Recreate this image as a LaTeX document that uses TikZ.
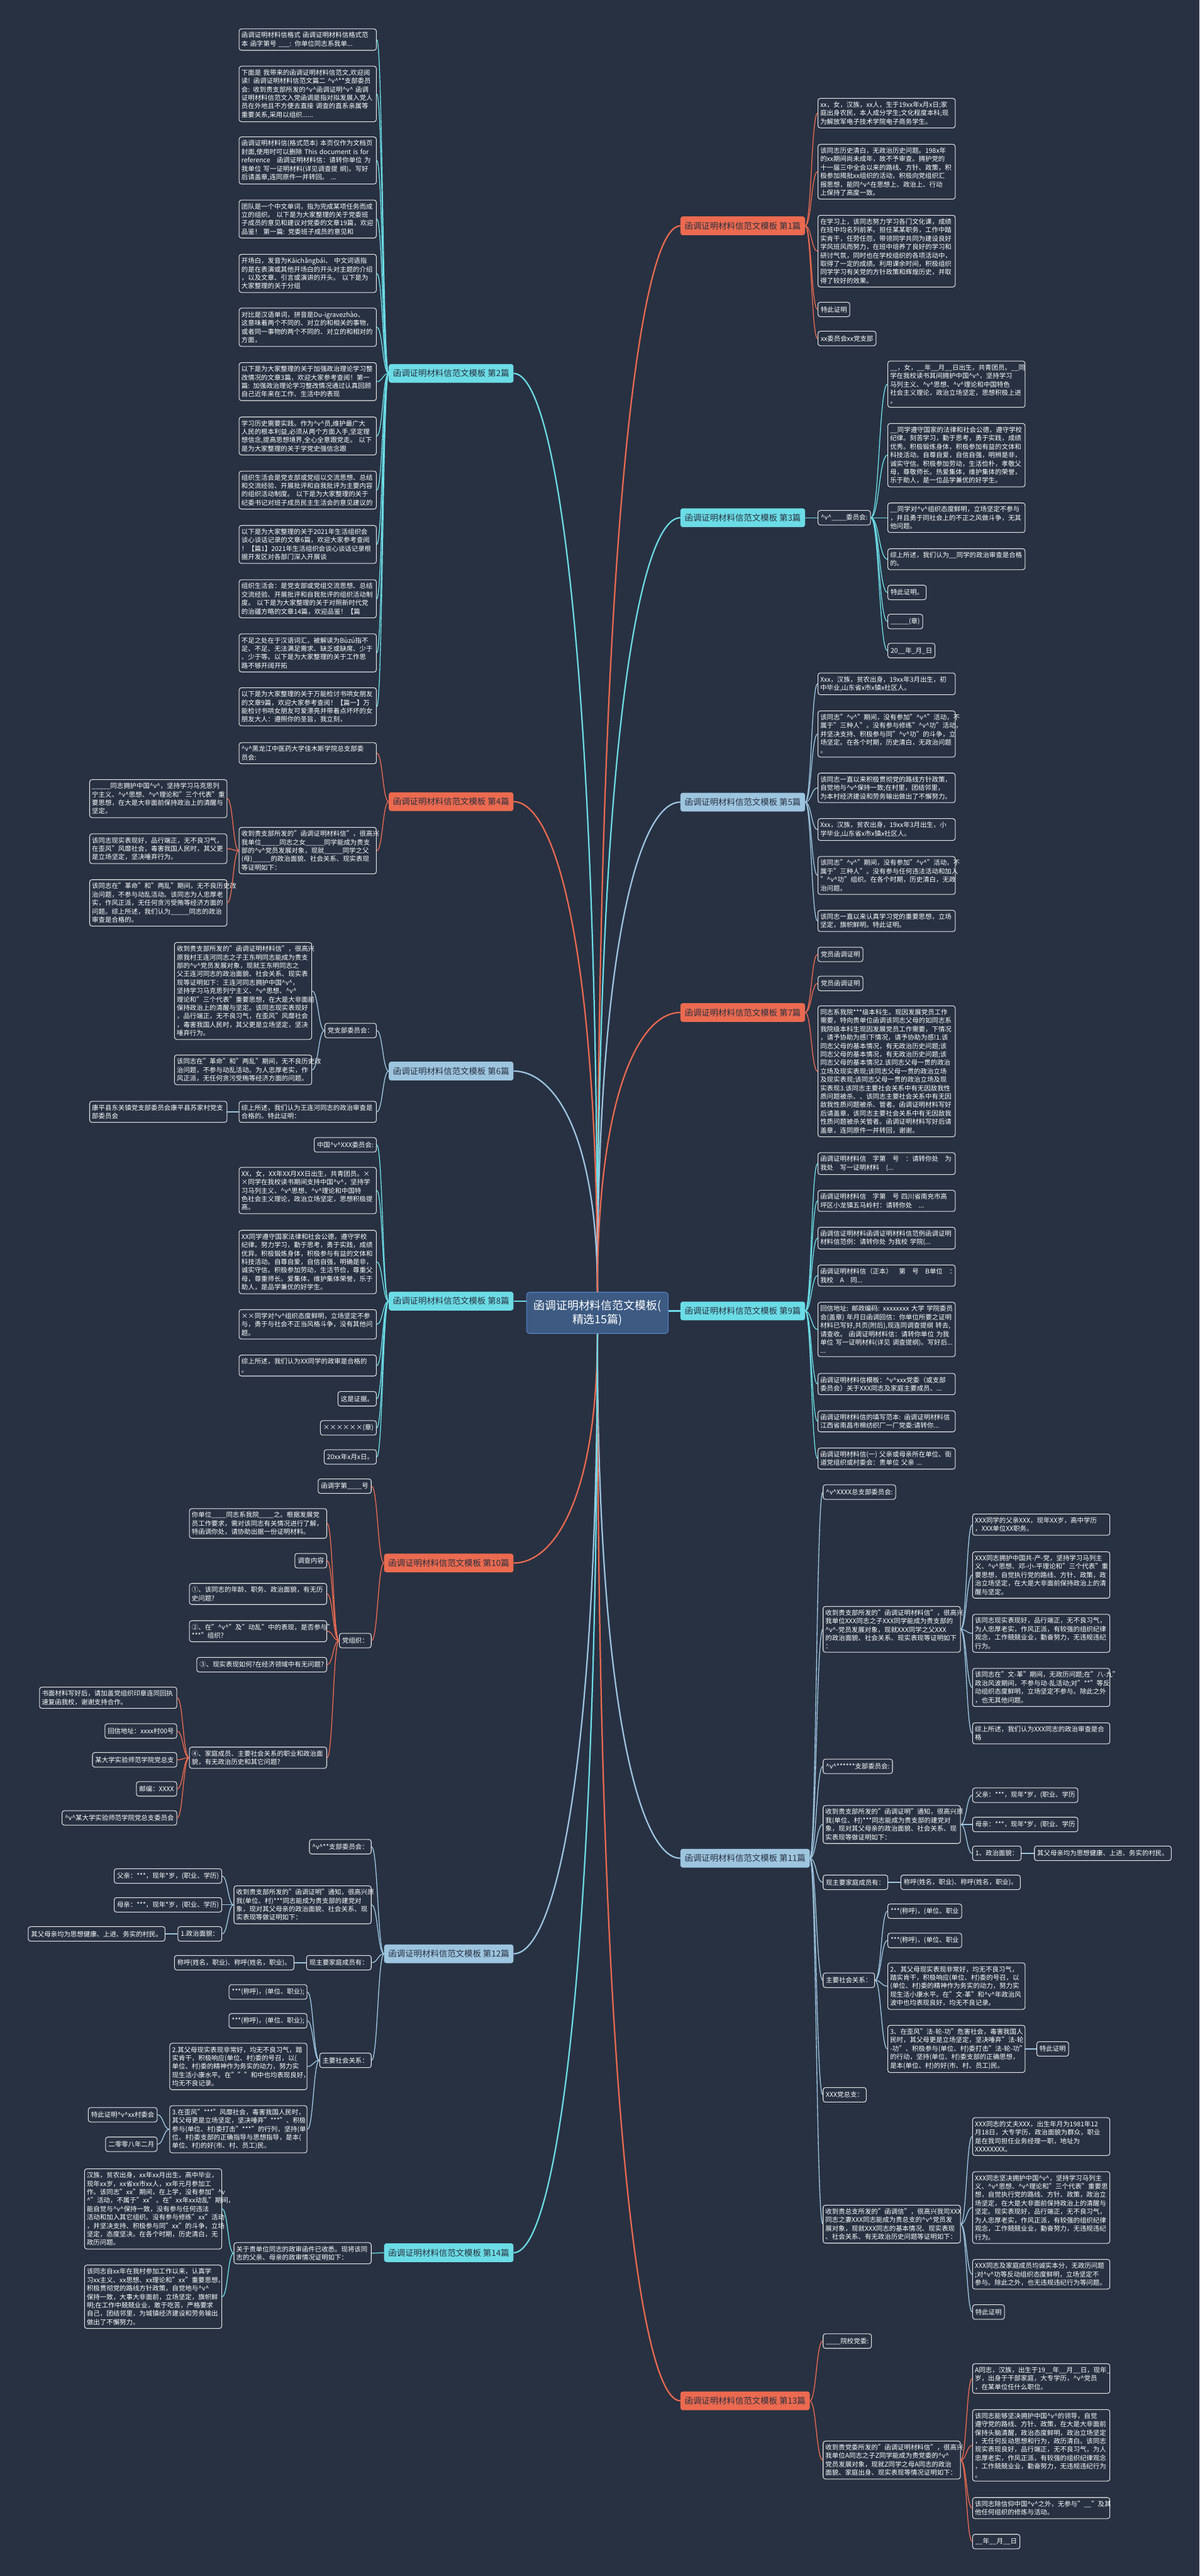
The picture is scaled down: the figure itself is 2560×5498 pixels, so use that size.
\documentclass[tikz,border=0pt]{standalone}
\usepackage{fontspec}
\setmainfont{Noto Sans CJK SC}
\usetikzlibrary{calc}
\definecolor{bgc}{HTML}{283142}
\definecolor{coral}{HTML}{EB6A50}
\definecolor{cyanb}{HTML}{6BDCE6}
\definecolor{paleb}{HTML}{9DC5E0}
\definecolor{hubc}{HTML}{3C5A82}
\definecolor{hubline}{HTML}{5580BF}
\definecolor{inkc}{HTML}{2A3140}
\newcommand{\hv}{\textasciicircum v\textasciicircum}
\hyphenpenalty=10000
\exhyphenpenalty=10000
\begin{document}
\begin{tikzpicture}[x=1pt,y=-1pt,
  leaf/.style={draw=white!90!black, line width=1.4pt, rounded corners=5pt, fill=bgc, text=white, align=left, inner xsep=6pt, inner ysep=6pt, font=\fontsize{14}{18}\selectfont, minimum height=31pt},
  para/.style={leaf, text width=283pt, inner xsep=5pt, inner ysep=7pt},
  topic/.style={fill=#1, rounded corners=5pt, text=inkc, inner xsep=9pt, minimum height=40pt, font=\fontsize{18}{22}\selectfont},
  hub/.style={fill=hubc, draw=hubline, line width=1.5pt, rounded corners=6pt, text=white, align=center, minimum width=302pt, minimum height=88pt, font=\fontsize{24}{30}\selectfont},
  link/.style={line width=1.8pt, to path={let \p1=(\tikztostart), \p2=(\tikztotarget) in .. controls (\x1/2+\x2/2,\y1) and (\x1/2+\x2/2,\y2) .. (\tikztotarget)}},
  trunk/.style={line width=3pt, to path={let \p1=(\tikztostart), \p2=(\tikztotarget) in .. controls (\x1,0.3*\y1+0.7*\y2) and (\x1/2+\x2/2,\y2) .. (\tikztotarget)}}]
\path[use as bounding box, fill=bgc] (0,0) rectangle (2560,5498);

\node[hub] (hub) at (1275,2802) {函调证明材料信范文模板(\\精选15篇)};

\node[topic=coral, anchor=west] (t1) at (1452,482) {函调证明材料信范文模板 第1篇};
\node[topic=cyanb, anchor=east] (t2) at (1096,797) {函调证明材料信范文模板 第2篇};
\node[topic=cyanb, anchor=west] (t3) at (1452,1105) {函调证明材料信范文模板 第3篇};
\node[topic=coral, anchor=east] (t4) at (1096,1711) {函调证明材料信范文模板 第4篇};
\node[topic=paleb, anchor=west] (t5) at (1452,1712) {函调证明材料信范文模板 第5篇};
\node[topic=paleb, anchor=east] (t6) at (1096,2286) {函调证明材料信范文模板 第6篇};
\node[topic=coral, anchor=west] (t7) at (1452,2161) {函调证明材料信范文模板 第7篇};
\node[topic=cyanb, anchor=east] (t8) at (1096,2777) {函调证明材料信范文模板 第8篇};
\node[topic=cyanb, anchor=west] (t9) at (1452,2798) {函调证明材料信范文模板 第9篇};
\node[topic=coral, anchor=east] (t10) at (1096,3336) {函调证明材料信范文模板 第10篇};
\node[topic=paleb, anchor=west] (t11) at (1452,3966) {函调证明材料信范文模板 第11篇};
\node[topic=paleb, anchor=east] (t12) at (1096,4170) {函调证明材料信范文模板 第12篇};
\node[topic=coral, anchor=west] (t13) at (1452,5124) {函调证明材料信范文模板 第13篇};
\node[topic=cyanb, anchor=east] (t14) at (1096,4808) {函调证明材料信范文模板 第14篇};

\node[para, anchor=west] (p1a) at (1745,241.5) {xx，女，汉族，xx人，生于19xx年x月x日;家\\庭出身农民，本人成分学生;文化程度本科;现\\为解放军电子技术学院电子商务学生。};
\node[para, anchor=west] (p1b) at (1745,366.5) {该同志历史清白，无政治历史问题。198x年\\的xx期间尚未成年，故不予审查。拥护党的\\十一届三中全会以来的路线、方针、政策，积\\极参加揭批xx组织的活动，积极向党组织汇\\报思想，能同\hv{}在思想上、政治上、行动\\上保持了高度一致。};
\node[para, anchor=west] (p1c) at (1745,536) {在学习上，该同志努力学习各门文化课，成绩\\在班中均名列前茅。担任某某职务，工作中踏\\实肯干，任劳任怨，带领同学共同为建设良好\\学风班风而努力，在班中培养了良好的学习和\\研讨气氛，同时也在学校组织的各项活动中，\\取得了一定的成绩。利用课余时间，积极组织\\同学学习有关党的方针政策和辉煌历史，并取\\得了较好的效果。};
\node[leaf, anchor=west] (p1d) at (1745,660.5) {特此证明};
\node[leaf, anchor=west] (p1e) at (1745,722.5) {xx委员会xx党支部};

\node[para, anchor=east] (p2a) at (804,84.5) {函调证明材料信格式 函调证明材料信格式范\\本 函字第号 \_\_\_: 你单位同志系我单...};
\node[para, anchor=east] (p2b) at (804,200.5) {下面是 我带来的函调证明材料信范文,欢迎阅\\读! 函调证明材料信范文篇二 \hv{}**支部委员\\会: 收到贵支部所发的\hv{}函调证明\hv{} 函调\\证明材料信范文入党函调是指对拟发展入党人\\员在外地且不方便去直接 调查的直系亲属等\\重要关系,采用以组织......};
\node[para, anchor=east] (p2c) at (804,342.5) {函调证明材料信(格式范本) 本页仅作为文档页\\封面,使用时可以删除 This document is for\\reference　函调证明材料信：请转你单位 为\\我单位 写一证明材料(详见调查提 纲)。写好\\后请盖章,连同原件一并转回。 ...};
\node[para, anchor=east] (p2d) at (804,467.5) {团队是一个中文单词，指为完成某项任务而成\\立的组织。 以下是为大家整理的关于党委班\\子成员的意见和建议对党委的文章19篇，欢迎\\品鉴！ 第一篇: 党委班子成员的意见和};
\node[para, anchor=east] (p2e) at (804,583.5) {开场白，发音为Kāichǎngbái、 中文词语指\\的是在表演或其他开场白的开头对主题的介绍\\，以及文章、引言或演讲的开头。 以下是为\\大家整理的关于分组};
\node[para, anchor=east] (p2f) at (804,698.5) {对比是汉语单词，拼音是Du-igravezhào、\\这意味着两个不同的、对立的和相关的事物，\\或者同一事物的两个不同的、对立的和相对的\\方面，};
\node[para, anchor=east] (p2g) at (804,814.5) {以下是为大家整理的关于加强政治理论学习整\\改情况的文章3篇，欢迎大家参考查阅！第一\\篇: 加强政治理论学习整改情况通过认真回顾\\自己近年来在工作、生活中的表现};
\node[para, anchor=east] (p2h) at (804,930.5) {学习历史需要实践。作为\hv{}员,维护最广大\\人民的根本利益,必须从两个方面入手,坚定理\\想信念,提高思想境界,全心全意跟党走。 以下\\是为大家整理的关于学党史强信念跟};
\node[para, anchor=east] (p2i) at (804,1046) {组织生活会是党支部或党组以交流思想、总结\\和交流经验、开展批评和自我批评为主要内容\\的组织活动制度。 以下是为大家整理的关于\\纪委书记对班子成员民主生活会的意见建议的};
\node[para, anchor=east] (p2j) at (804,1162) {以下是为大家整理的关于2021年生活组织会\\谈心谈话记录的文章6篇，欢迎大家参考查阅\\！【篇1】2021年生活组织会谈心谈话记录根\\据开发区对各部门深入开展谈};
\node[para, anchor=east] (p2k) at (804,1278) {组织生活会：是党支部或党组交流思想、总结\\交流经验、开展批评和自我批评的组织活动制\\度。 以下是为大家整理的关于对照新时代党\\的治疆方略的文章14篇，欢迎品鉴！【篇};
\node[para, anchor=east] (p2l) at (804,1393.5) {不足之处在于汉语词汇，被解读为Bùzú指不\\足、不足、无法满足需求、缺乏或缺席、少于\\、少于等。以下是为大家整理的关于工作思\\路不够开阔开拓};
\node[para, anchor=east] (p2m) at (804,1508.5) {以下是为大家整理的关于万能检讨书哄女朋友\\的文章9篇，欢迎大家参考查阅！【篇一】万\\能检讨书哄女朋友可爱漂亮并带着点坏坏的女\\朋友大人：遵照你的圣旨，我立刻，};

\node[leaf, anchor=west] (p3s) at (1745,1105) {\hv{}\_\_\_\_委员会:};
\node[para, anchor=west] (p3a) at (1894,820) {\_\_，女，\_\_年\_\_月\_\_日出生，共青团员。\_\_同\\学在我校读书其间拥护中国\hv{}，坚持学习\\马列主义、\hv{}思想、\hv{}理论和中国特色\\社会主义理论，政治立场坚定，思想积极上进\\。};
\node[para, anchor=west] (p3b) at (1894,971.5) {\_\_同学遵守国家的法律和社会公德，遵守学校\\纪律。刻苦学习，勤于思考，勇于实践，成绩\\优秀。积极锻炼身体，积极参加有益的文体和\\科技活动。自尊自爱，自信自强，明辨是非，\\诚实守信。积极参加劳动，生活俭朴，孝敬父\\母，尊敬师长。热爱集体，维护集体的荣誉，\\乐于助人，是一位品学兼优的好学生。};
\node[para, anchor=west] (p3c) at (1894,1105) {\_\_同学对\hv{}组织态度鲜明，立场坚定不参与\\，并且勇于同社会上的不正之风做斗争，无其\\他问题。};
\node[para, anchor=west] (p3d) at (1894,1193.5) {综上所述，我们认为\_\_同学的政治审查是合格\\的。};
\node[leaf, anchor=west] (p3e) at (1894,1264.5) {特此证明。};
\node[leaf, anchor=west] (p3f) at (1894,1326.5) {\_\_\_\_\_(章)};
\node[leaf, anchor=west] (p3g) at (1894,1388.5) {20\_\_年\_月\_日};

\node[para, anchor=east] (p4a) at (804,1607.5) {\hv{}黑龙江中医药大学佳木斯学院总支部委\\员会:};
\node[para, anchor=east] (p4b) at (804,1815.5) {收到贵支部所发的"函调证明材料信"，很高兴\\我单位\_\_\_\_\_同志之女\_\_\_\_\_同学能成为贵支\\部的\hv{}党员发展对象，现就\_\_\_\_\_同学之父\\(母)\_\_\_\_\_的政治面貌、社会关系、现实表现\\等证明如下：};
\node[para, anchor=east] (p4b1) at (485,1704.5) {\_\_\_\_\_同志拥护中国\hv{}，坚持学习马克思列\\宁主义、\hv{}思想、\hv{}理论和"三个代表"重\\要思想，在大是大非面前保持政治上的清醒与\\坚定。};
\node[para, anchor=east] (p4b2) at (485,1811.5) {该同志现实表现好，品行端正，无不良习气，\\在歪风"风靡社会，毒害我国人民时，其父更\\是立场坚定，坚决唾弃行为。};
\node[para, anchor=east] (p4b3) at (485,1927) {该同志在"革命"和"两乱"期间，无不良历史政\\治问题，不参与动乱活动。该同志为人忠厚老\\实，作风正派，无任何贪污受贿等经济方面的\\问题。综上所述，我们认为\_\_\_\_\_同志的政治\\审查是合格的。};

\node[para, anchor=west] (p5a) at (1745,1459.5) {Xxx，汉族，贫农出身，19xx年3月出生，初\\中毕业,山东省x市x镇x社区人。};
\node[para, anchor=west] (p5b) at (1745,1566.5) {该同志"\hv{}"期间，没有参加"\hv{}"活动，不\\属于"三种人"。没有参与修练"\hv{}功"活动，\\并坚决支持、积极参与同"\hv{}功"的斗争，立\\场坚定。在各个时期，历史清白，无政治问题\\。};
\node[para, anchor=west] (p5c) at (1745,1681.5) {该同志一直以来积极贯彻党的路线方针政策，\\自觉地与\hv{}保持一致;在村里，团结邻里，\\为本村经济建设和劳务输出做出了不懈努力。};
\node[para, anchor=west] (p5d) at (1745,1770.5) {Xxx，汉族，贫农出身，19xx年3月出生，小\\学毕业,山东省x市x镇x社区人。};
\node[para, anchor=west] (p5e) at (1745,1868.5) {该同志"\hv{}"期间，没有参加"\hv{}"活动，不\\属于"三种人"。没有参与任何违法活动和加入\\"\hv{}功"组织。在各个时期，历史清白，无政\\治问题。};
\node[para, anchor=west] (p5f) at (1745,1965.5) {该同志一直以来认真学习党的重要思想，立场\\坚定，旗帜鲜明。特此证明。};

\node[leaf, anchor=east] (p6a) at (804,2199.5) {党支部委员会：};
\node[para, anchor=east] (p6a1) at (666,2115) {收到贵支部所发的"函调证明材料信"，很高兴\\原我村王连河同志之子王东明同志能成为贵支\\部的\hv{}党员发展对象，现就王东明同志之\\父王连河同志的政治面貌、社会关系、现实表\\现等证明如下：王连河同志拥护中国\hv{}，\\坚持学习马克思列宁主义、\hv{}思想、\hv{}\\理论和"三个代表"重要思想，在大是大非面前\\保持政治上的清醒与坚定。该同志现实表现好\\，品行端正，无不良习气，在歪风"风靡社会\\，毒害我国人民时，其父更是立场坚定，坚决\\唾弃行为。};
\node[para, anchor=east] (p6a2) at (666,2283.5) {该同志在"革命"和"两乱"期间，无不良历史政\\治问题，不参与动乱活动。为人忠厚老实，作\\风正派，无任何贪污受贿等经济方面的问题。};
\node[para, anchor=east] (p6b) at (804,2373) {综上所述，我们认为王连河同志的政治审查是\\合格的。特此证明：};
\node[para, anchor=east] (p6b1) at (485,2373) {康平县东关镇党支部委员会康平县苏家村党支\\部委员会};

\node[leaf, anchor=west] (p7a) at (1745,2037) {党员函调证明};
\node[leaf, anchor=west] (p7b) at (1745,2099) {党员函调证明};
\node[para, anchor=west] (p7c) at (1745,2286.5) {同志系我院***级本科生。现因发展党员工作\\需要，特向贵单位函调该同志父母的如同志系\\我院级本科生现因发展党员工作需要，下情况\\，请予协助为感!下情况，请予协助为感!1.该\\同志父母的基本情况，有无政治历史问题;该\\同志父母的基本情况，有无政治历史问题;该\\同志父母的基本情况2.该同志父母一贯的政治\\立场及现实表现;该同志父母一贯的政治立场\\及现实表现;该同志父母一贯的政治立场及现\\实表现3.该同志主要社会关系中有无因敌我性\\质问题被杀、、该同志主要社会关系中有无因\\敌我性质问题被杀、管者。函调证明材料写好\\后请盖章，该同志主要社会关系中有无因敌我\\性质问题被杀关管者。函调证明材料写好后请\\盖章，连同原件一并转回，谢谢。};

\node[leaf, anchor=east] (p8a) at (804,2443.5) {中国\hv{}XXX委员会:};
\node[para, anchor=east] (p8b) at (804,2541) {XX，女，XX年XX月XX日出生，共青团员。×\\×同学在我校读书期间支持中国\hv{}，坚持学\\习马列主义、\hv{}思想、\hv{}理论和中国特\\色社会主义理论，政治立场坚定，思想积极提\\高。};
\node[para, anchor=east] (p8c) at (804,2693.5) {XX同学遵守国家法律和社会公德，遵守学校\\纪律。努力学习，勤于思考，勇于实践，成绩\\优异。积极锻炼身体，积极参与有益的文体和\\科技活动。自尊自爱，自信自强，明确是非，\\诚实守信。积极参加劳动，生活节俭，尊重父\\母，尊重师长。爱集体，维护集体荣誉，乐于\\助人，是品学兼优的好学生。};
\node[para, anchor=east] (p8d) at (804,2826.5) {××同学对\hv{}组织态度鲜明，立场坚定不参\\与，勇于与社会不正当风格斗争，没有其他问\\题。};
\node[para, anchor=east] (p8e) at (804,2914.5) {综上所述，我们认为XX同学的政审是合格的\\。};
\node[leaf, anchor=east] (p8f) at (804,2985.5) {这是证据。};
\node[leaf, anchor=east] (p8g) at (804,3047.5) {××××××(章)};
\node[leaf, anchor=east] (p8h) at (804,3109.5) {20xx年x月x日。};

\node[para, anchor=west] (p9a) at (1745,2483.5) {函调证明材料信　字第　号　：请转你处　为\\我处　写一证明材料　(...};
\node[para, anchor=west] (p9b) at (1745,2563) {函调证明材料信　字第　号 四川省南充市高\\坪区小龙镇五马岭村：请转你处　...};
\node[para, anchor=west] (p9c) at (1745,2642.5) {函调信证明材料函调证明材料信范例函调证明\\材料信范例：请转你处 为我校 学院(...};
\node[para, anchor=west] (p9d) at (1745,2722.5) {函调证明材料信（正本）　第　号　B单位　：\\我校　A　同...};
\node[para, anchor=west] (p9e) at (1745,2837.5) {回信地址: 邮政编码: xxxxxxxx 大学 学院委员\\会(盖章) 年月日函调回信：你单位所要之证明\\材料已写好,共页(附后),现连同调查提纲 转去,\\请查收。 函调证明材料信：请转你单位 为我\\单位 写一证明材料(详见 调查提纲)。写好后...\\...};
\node[para, anchor=west] (p9f) at (1745,2954) {函调证明材料信模板：\hv{}xxx党委（或支部\\委员会）关于XXX同志及家庭主要成员、...};
\node[para, anchor=west] (p9g) at (1745,3033.5) {函调证明材料信的填写范本: 函调证明材料信\\江西省南昌市棉纺织厂一厂党委:请转你...};
\node[para, anchor=west] (p9h) at (1745,3113) {函调证明材料信(一) 父亲或母亲所在单位、街\\道党组织或村委会：贵单位 父亲 ...};

\node[leaf, anchor=east] (p10a) at (793,3172) {函调字第\_\_\_\_号};
\node[leaf, anchor=east] (p10b) at (793,3501.5) {党组织：};
\node[para, anchor=east] (p10b1) at (698,3251.5) {你单位\_\_\_\_同志系我院\_\_\_\_之。根据发展党\\员工作要求，需对该同志有关情况进行了解，\\特函调你处，请协助出据一份证明材料。};
\node[leaf, anchor=east] (p10b2) at (698,3331) {调查内容};
\node[para, anchor=east] (p10b3) at (698,3402) {①、该同志的年龄、职务、政治面貌，有无历\\史问题?};
\node[para, anchor=east] (p10b4) at (698,3481.5) {②、在"\hv{}"及"动乱"中的表现，是否参与"*\\{}***"组织?};
\node[leaf, anchor=east] (p10b5) at (698,3553) {③、现实表现如何?在经济领域中有无问题?};
\node[para, anchor=east] (p10b6) at (698,3751.5) {④、家庭成员、主要社会关系的职业和政治面\\貌，有无政治历史和其它问题?};
\node[para, anchor=east] (p10b6a) at (378,3623.5) {书面材料写好后，请加盖党组织印章连同回执\\速复函我校，谢谢支持合作。};
\node[leaf, anchor=east] (p10b6b) at (378,3694.5) {回信地址：xxxx村00号};
\node[leaf, anchor=east] (p10b6c) at (378,3756) {某大学实验师范学院党总支};
\node[leaf, anchor=east] (p10b6d) at (378,3818) {邮编：XXXX};
\node[leaf, anchor=east] (p10b6e) at (378,3880) {\hv{}某大学实验师范学院党总支委员会};

\node[leaf, anchor=west] (p11a) at (1756,3184.5) {\hv{}XXXX总支部委员会:};
\node[para, anchor=west] (p11b) at (1756,3477.5) {收到贵支部所发的"函调证明材料信"，很高兴\\我单位XXX同志之子XXX同学能成为贵支部的\\\hv{}-党员发展对象，现就XXX同学之父XXX\\的政治面貌、社会关系、现实表现等证明如下\\：};
\node[para, anchor=west] (p11b1) at (2075,3254) {XXX同学的父亲XXX，现年XX岁，高中学历\\，XXX单位XX职务。};
\node[para, anchor=west] (p11b2) at (2075,3361.5) {XXX同志拥护中国共-产-党，坚持学习马列主\\义、\hv{}思想、邓-小-平理论和"三个代表"重\\要思想，自觉执行党的路线、方针、政策，政\\治立场坚定，在大是大非面前保持政治上的清\\醒与坚定。};
\node[para, anchor=west] (p11b3) at (2075,3486) {该同志现实表现好，品行端正，无不良习气，\\为人忠厚老实，作风正派，有较强的组织纪律\\观念，工作兢兢业业，勤奋努力，无违规违纪\\行为。};
\node[para, anchor=west] (p11b4) at (2075,3601.5) {该同志在"文-革"期间，无政历问题;在"八-九"\\政治风波期间，不参与动-乱活动;对"**"等反\\动组织态度鲜明，立场坚定不参与。除此之外\\，也无其他问题。};
\node[para, anchor=west] (p11b5) at (2075,3699.5) {综上所述，我们认为XXX同志的政治审查是合\\格};
\node[leaf, anchor=west] (p11c) at (1756,3770) {\hv{}******支部委员会:};
\node[para, anchor=west] (p11d) at (1756,3894) {收到贵支部所发的"函调证明"通知，很高兴原\\我(单位、村)***同志能成为贵支部的建党对\\象，现对其父母亲的政治面貌、社会关系、现\\实表现等做证明如下：};
\node[leaf, anchor=west] (p11d1) at (2075,3831.5) {父亲：***，现年*岁，(职业、学历};
\node[leaf, anchor=west] (p11d2) at (2075,3894) {母亲：***，现年*岁，(职业、学历};
\node[leaf, anchor=west] (p11d3) at (2075,3955.5) {1、政治面貌：};
\node[leaf, anchor=west] (p11d3a) at (2207,3955.5) {其父母亲均为思想健康、上进、务实的村民。};
\node[leaf, anchor=west] (p11e) at (1756,4017.5) {现主要家庭成员有：};
\node[leaf, anchor=west] (p11e1) at (1922,4017.5) {称呼(姓名，职业)、称呼(姓名，职业)。};
\node[leaf, anchor=west] (p11f) at (1756,4226.5) {主要社会关系：};
\node[leaf, anchor=west] (p11f1) at (1894,4079) {***(称呼)，(单位、职业};
\node[leaf, anchor=west] (p11f2) at (1894,4141.5) {***(称呼)，(单位、职业};
\node[para, anchor=west] (p11f3) at (1894,4239) {2、其父母现实表现非常好，均无不良习气，\\踏实肯干，积极响应(单位、村)委的号召，以\\(单位、村)委的精神作为务实的动力，努力实\\现生活小康水平。在"文-革"和\hv{}年政治风\\波中也均表现良好，均无不良记录。};
\node[para, anchor=west] (p11f4) at (1894,4373) {3、在歪风"法-轮-功"危害社会，毒害我国人\\民时，其父母更是立场坚定，坚决唾弃"法-轮\\-功"、积极参与(单位、村)委打击"法-轮-功"\\的行动，坚持(单位、村)委支部的正确思想，\\是本(单位、村)的好(市、村、员工)民。};
\node[leaf, anchor=west] (p11f4a) at (2212,4373) {特此证明};
\node[leaf, anchor=west] (p11g) at (1756,4471) {XXX党总支：};
\node[para, anchor=west] (p11h) at (1756,4747) {收到贵总支所发的"函调信"，很高兴我司XXX\\同志之妻XXX同志能成为贵总支的\hv{}党员发\\展对象，现就XXX同志的基本情况、现实表现\\、社会关系、有无政治历史问题等证明如下：};
\node[para, anchor=west] (p11h1) at (2075,4560) {XXX同志的丈夫XXX，出生年月为1981年12\\月18日，大专学历，政治面貌为群众，职业\\是在我司担任业务经理一职，地址为\\XXXXXXXX。};
\node[para, anchor=west] (p11h2) at (2075,4711.5) {XXX同志坚决拥护中国\hv{}，坚持学习马列主\\义、\hv{}思想、\hv{}理论和"三个代表"重要思\\想，自觉执行党的路线、方针、政策，政治立\\场坚定，在大是大非面前保持政治上的清醒与\\坚定。现实表现好，品行端正，无不良习气，\\为人忠厚老实，作风正派，有较强的组织纪律\\观念，工作兢兢业业，勤奋努力，无违规违纪\\行为。};
\node[para, anchor=west] (p11h3) at (2075,4854) {XXX同志及家庭成员均诚实本分，无政历问题\\;对\hv{}功等反动组织态度鲜明，立场坚定不\\参与。除此之外，也无违规违纪行为等问题。};
\node[leaf, anchor=west] (p11h4) at (2075,4934.5) {特此证明};

\node[leaf, anchor=east] (p12a) at (793,3941.5) {\hv{}**支部委员会：};
\node[para, anchor=east] (p12b) at (793,4065.5) {收到贵支部所发的"函调证明"通知，很高兴原\\我(单位、村)***同志能成为贵支部的建党对\\象，现对其父母亲的政治面貌、社会关系、现\\实表现等做证明如下：};
\node[leaf, anchor=east] (p12b1) at (474,4004) {父亲：***，现年*岁，(职业、学历)};
\node[leaf, anchor=east] (p12b2) at (474,4065.5) {母亲：***，现年*岁，(职业、学历)};
\node[leaf, anchor=east] (p12b3) at (474,4127.5) {1.政治面貌：};
\node[leaf, anchor=east] (p12b3a) at (353,4127.5) {其父母亲均为思想健康、上进、务实的村民。};
\node[leaf, anchor=east] (p12c) at (793,4189) {现主要家庭成员有：};
\node[leaf, anchor=east] (p12c1) at (628,4189) {称呼(姓名，职业)、称呼(姓名，职业)。};
\node[leaf, anchor=east] (p12d) at (793,4397.5) {主要社会关系：};
\node[leaf, anchor=east] (p12d1) at (656,4251.5) {***(称呼)，(单位、职业);};
\node[leaf, anchor=east] (p12d2) at (656,4313) {***(称呼)，(单位、职业);};
\node[para, anchor=east] (p12d3) at (656,4410.5) {2.其父母现实表现非常好，均无不良习气，踏\\实肯干，积极响应(单位、村)委的号召，以(\\单位、村)委的精神作为务实的动力，努力实\\现生活小康水平。在"""和中也均表现良好，\\均无不良记录。};
\node[para, anchor=east] (p12d4) at (656,4544.5) {3.在歪风"***"风靡社会，毒害我国人民时，\\其父母更是立场坚定，坚决唾弃"***"、积极\\参与(单位、村)委打击"***"的行列，坚持(单\\位、村)委支部的正确指导与思想指导，是本(\\单位、村)的好(市、村、员工)民。};
\node[leaf, anchor=east] (p12d4a) at (336,4513.5) {特此证明\hv{}xx村委会};
\node[leaf, anchor=east] (p12d4b) at (336,4576.5) {二零零八年二月};

\node[leaf, anchor=west] (p13a) at (1756,4996.5) {\_\_\_\_院校党委:};
\node[para, anchor=west] (p13b) at (1756,5250.5) {收到贵党委所发的"函调证明材料信"，很高兴\\我单位A同志之子Z同学能成为贵党委的\hv{}\\党员发展对象，现就Z同学之母A同志的政治\\面貌、家庭出身、现实表现等情况证明如下：};
\node[para, anchor=west] (p13b1) at (2075,5076.5) {A同志，汉族，出生于19\_\_年\_\_月\_\_日，现年\_\\岁，出身于干部家庭，大专学历，\hv{}党员\\，在某单位任什么职位。};
\node[para, anchor=west] (p13b2) at (2075,5219) {该同志能够坚决拥护中国\hv{}的领导，自觉\\遵守党的路线、方针、政策，在大是大非面前\\保持头脑清醒，政治态度鲜明，政治立场坚定\\，无任何反动思想和行为，政历清白。该同志\\现实表现良好，品行端正，无不良习气，为人\\忠厚老实，作风正派，有较强的组织纪律观念\\，工作兢兢业业，勤奋努力，无违规违纪行为\\。};
\node[para, anchor=west] (p13b3) at (2075,5353) {该同志除信仰中国\hv{}之外，无参与"\_\_"及其\\他任何组织的修炼与活动。};
\node[leaf, anchor=west] (p13b4) at (2075,5424.5) {\_\_年\_\_月\_\_日};

\node[para, anchor=east] (p14a) at (793,4809) {关于贵单位同志的政审函件已收悉。现将该同\\志的父亲、母亲的政审情况证明如下：};
\node[para, anchor=east] (p14a1) at (474,4714.5) {汉族，贫农出身，xx年xx月出生，高中毕业，\\现年xx岁，xx省xx市xx人，xx年元月参加工\\作。该同志"xx"期间，在上学，没有参加"\textasciicircum v\\\textasciicircum"活动，不属于"xx"。在"xx年xx动乱"期间，\\能自觉与\hv{}保持一致，没有参与任何违法\\活动和加入其它组织。没有参与修练"xx"活动\\，并坚决支持、积极参与同"xx"的斗争，立场\\坚定，态度坚决。在各个时期，历史清白，无\\政历问题。};
\node[para, anchor=east] (p14a2) at (474,4902) {该同志自xx年在我村参加工作以来，认真学\\习xx主义、xx思想、xx理论和"xx"重要思想，\\积极贯彻党的路线方针政策，自觉地与\hv{}\\保持一致，大事大非面前，立场坚定，旗帜鲜\\明;在工作中兢兢业业，敢于吃苦，严格要求\\自己，团结邻里，为城镇经济建设和劳务输出\\做出了不懈努力。};

\draw[trunk, coral] (hub.north) to (t1.west);
\draw[trunk, cyanb] (hub.north) to (t2.east);
\draw[trunk, cyanb] (hub.north) to (t3.west);
\draw[trunk, coral] (hub.north) to (t4.east);
\draw[trunk, paleb] (hub.north) to (t5.west);
\draw[trunk, paleb] (hub.north) to (t6.east);
\draw[trunk, coral] (hub.north) to (t7.west);
\draw[cyanb, line width=3pt] (t8.east) -- (t8.east -| hub.west);
\draw[cyanb, line width=3pt] (t9.west) -- (t9.west -| hub.east);
\draw[trunk, coral] (hub.south) to (t10.east);
\draw[trunk, paleb] (hub.south) to (t11.west);
\draw[trunk, paleb] (hub.south) to (t12.east);
\draw[trunk, coral] (hub.south) to (t13.west);
\draw[trunk, cyanb] (hub.south) to (t14.east);

\foreach \q in {p1a,p1b,p1c,p1d,p1e} \draw[link, coral] (t1.east) to (\q.west);
\foreach \q in {p2a,p2b,p2c,p2d,p2e,p2f,p2g,p2h,p2i,p2j,p2k,p2l,p2m} \draw[link, cyanb] (t2.west) to (\q.east);
\draw[link, cyanb] (t3.east) to (p3s.west);
\foreach \q in {p3a,p3b,p3c,p3d,p3e,p3f,p3g} \draw[link, cyanb] (p3s.east) to (\q.west);
\foreach \q in {p4a,p4b} \draw[link, coral] (t4.west) to (\q.east);
\foreach \q in {p4b1,p4b2,p4b3} \draw[link, coral] (p4b.west) to (\q.east);
\foreach \q in {p5a,p5b,p5c,p5d,p5e,p5f} \draw[link, paleb] (t5.east) to (\q.west);
\foreach \q in {p6a,p6b} \draw[link, paleb] (t6.west) to (\q.east);
\foreach \q in {p6a1,p6a2} \draw[link, paleb] (p6a.west) to (\q.east);
\draw[link, paleb] (p6b.west) to (p6b1.east);
\foreach \q in {p7a,p7b,p7c} \draw[link, coral] (t7.east) to (\q.west);
\foreach \q in {p8a,p8b,p8c,p8d,p8e,p8f,p8g,p8h} \draw[link, cyanb] (t8.west) to (\q.east);
\foreach \q in {p9a,p9b,p9c,p9d,p9e,p9f,p9g,p9h} \draw[link, cyanb] (t9.east) to (\q.west);
\foreach \q in {p10a,p10b} \draw[link, coral] (t10.west) to (\q.east);
\foreach \q in {p10b1,p10b2,p10b3,p10b4,p10b5,p10b6} \draw[link, coral] (p10b.west) to (\q.east);
\foreach \q in {p10b6a,p10b6b,p10b6c,p10b6d,p10b6e} \draw[link, coral] (p10b6.west) to (\q.east);
\foreach \q in {p11a,p11b,p11c,p11d,p11e,p11f,p11g,p11h} \draw[link, paleb] (t11.east) to (\q.west);
\foreach \q in {p11b1,p11b2,p11b3,p11b4,p11b5} \draw[link, paleb] (p11b.east) to (\q.west);
\foreach \q in {p11d1,p11d2,p11d3} \draw[link, paleb] (p11d.east) to (\q.west);
\draw[link, paleb] (p11d3.east) to (p11d3a.west);
\draw[link, paleb] (p11e.east) to (p11e1.west);
\foreach \q in {p11f1,p11f2,p11f3,p11f4} \draw[link, paleb] (p11f.east) to (\q.west);
\draw[link, paleb] (p11f4.east) to (p11f4a.west);
\foreach \q in {p11h1,p11h2,p11h3,p11h4} \draw[link, paleb] (p11h.east) to (\q.west);
\foreach \q in {p12a,p12b,p12c,p12d} \draw[link, paleb] (t12.west) to (\q.east);
\foreach \q in {p12b1,p12b2,p12b3} \draw[link, paleb] (p12b.west) to (\q.east);
\draw[link, paleb] (p12b3.west) to (p12b3a.east);
\draw[link, paleb] (p12c.west) to (p12c1.east);
\foreach \q in {p12d1,p12d2,p12d3,p12d4} \draw[link, paleb] (p12d.west) to (\q.east);
\foreach \q in {p12d4a,p12d4b} \draw[link, paleb] (p12d4.west) to (\q.east);
\foreach \q in {p13a,p13b} \draw[link, coral] (t13.east) to (\q.west);
\foreach \q in {p13b1,p13b2,p13b3,p13b4} \draw[link, coral] (p13b.east) to (\q.west);
\draw[link, cyanb] (t14.west) to (p14a.east);
\foreach \q in {p14a1,p14a2} \draw[link, cyanb] (p14a.west) to (\q.east);
\end{tikzpicture}
\end{document}
